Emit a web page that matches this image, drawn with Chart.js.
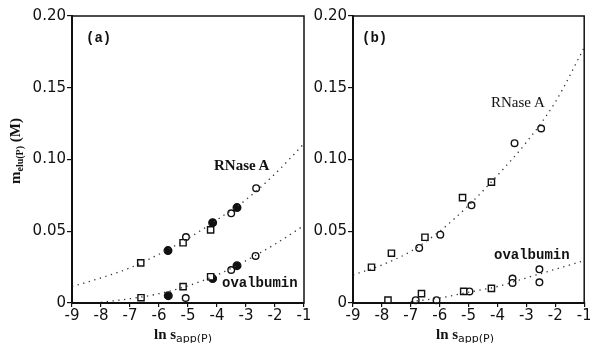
<!DOCTYPE html>
<html lang="en">
<head>
<meta charset="UTF-8" />
<title>Elution salt concentration vs ln s_app</title>
<script src="https://cdn.jsdelivr.net/npm/chart.js"></script>
<style>
  body { margin: 0; background: #fff; }
  #wrap { position: relative; width: 590px; height: 343px; overflow: hidden; }
  canvas { position: absolute; top: 0; }
  .lbl { position: absolute; color: #111; white-space: nowrap; line-height: 1; }
  .serif { font-family: "Liberation Serif", "DejaVu Serif", serif; font-weight: bold; }
  .mono { font-family: "Liberation Mono", "DejaVu Sans Mono", monospace; font-weight: bold; font-size: 14px; }
  .xt { font-size: 15px; }
  .xt sub { font-family: "DejaVu Sans", sans-serif; font-weight: normal; font-size: 11px; vertical-align: -3px; }
  .yt { transform: rotate(-90deg); transform-origin: left top; font-size: 15px; }
  .yt sub { font-size: 10px; vertical-align: -3px; }
</style>
</head>
<body>
<div id="wrap">
  <canvas id="panelA" width="310" height="343" style="left:0"></canvas>
  <canvas id="panelB" width="280" height="343" style="left:310px"></canvas>

  <div class="lbl mono" style="left:86px; top:31px;">(a)</div>
  <div class="lbl mono" style="left:362px; top:31px;">(b)</div>
  <div class="lbl serif" style="left:214px; top:158px; font-size:15px;">RNase A</div>
  <div class="lbl serif" style="left:491px; top:95px; font-size:15px; font-weight:normal;">RNase A</div>
  <div class="lbl mono" style="left:222px; top:276px;">ovalbumin</div>
  <div class="lbl mono" style="left:494px; top:248px;">ovalbumin</div>

  <div class="lbl serif xt" style="left:154px; top:327px;">ln s<sub>app(P)</sub></div>
  <div class="lbl serif xt" style="left:436px; top:327px;">ln s<sub>app(P)</sub></div>
  <div class="lbl serif yt" style="left:8px; top:184px;">m<sub>elu(P)</sub> (M)</div>
</div>

<script>
// x positions of the read-off fit curves
const curveX = [-9, -8, -7, -6, -5, -4, -3, -2, -1];
const ovalCurveAX = [-8, -7, -6, -5, -4, -3, -2, -1];
const ovalCurveBX = [-7, -6, -5, -4, -3, -2, -1];

// (a) fitted curves
const aRnaseCurve = [0.0115, 0.0175, 0.0245, 0.034, 0.045, 0.058, 0.072, 0.090, 0.111];
const aOvalCurve = [0.0005, 0.003, 0.0065, 0.012, 0.0195, 0.0295, 0.041, 0.054];

// (a) RNase A measurements
const aRnaseSqX = [-6.63, -5.17, -4.22];
const aRnaseSqY = [0.028, 0.042, 0.051];
const aRnaseFillX = [-5.69, -4.15, -3.31];
const aRnaseFillY = [0.0365, 0.056, 0.0665];
const aRnaseOpenX = [-5.07, -3.51, -2.65];
const aRnaseOpenY = [0.046, 0.0625, 0.080];

// (a) ovalbumin measurements
const aOvalSqX = [-6.62, -5.17, -4.22];
const aOvalSqY = [0.0037, 0.0114, 0.0183];
const aOvalFillX = [-5.68, -4.15, -3.31];
const aOvalFillY = [0.0051, 0.017, 0.026];
const aOvalOpenX = [-5.08, -3.51, -2.67];
const aOvalOpenY = [0.0035, 0.023, 0.0328];

// (b) fitted curves
const bRnaseCurve = [0.0195, 0.0265, 0.036, 0.050, 0.068, 0.089, 0.112, 0.140, 0.178];
const bOvalCurve = [0.001, 0.0035, 0.0075, 0.0115, 0.0175, 0.0235, 0.0295];

// (b) RNase A measurements
const bRnaseSqX = [-8.36, -7.67, -6.51, -5.21, -4.21];
const bRnaseSqY = [0.0249, 0.0347, 0.0458, 0.0734, 0.0842];
const bRnaseOpenX = [-6.71, -5.98, -4.90, -3.41, -2.49];
const bRnaseOpenY = [0.0384, 0.0476, 0.0681, 0.1114, 0.1216];

// (b) ovalbumin measurements
const bOvalSqX = [-7.79, -6.63, -5.17, -4.21];
const bOvalSqY = [0.002, 0.0065, 0.0081, 0.0102];
const bOvalOpenX = [-6.83, -6.11, -4.97, -3.48, -3.48, -2.55, -2.55];
const bOvalOpenY = [0.002, 0.002, 0.0081, 0.017, 0.014, 0.0235, 0.0144];

// axis ticks
const xTicks = [-9, -8, -7, -6, -5, -4, -3, -2, -1];
const yTicks = [0, 0.05, 0.10, 0.15, 0.20];

const pts = (xs, ys) => xs.map((x, i) => ({ x: x, y: ys[i] }));

function curve(xs, ys) {
  return {
    data: pts(xs, ys),
    showLine: true,
    pointRadius: 0,
    borderColor: '#333',
    borderWidth: 1.3,
    borderDash: [1.3, 4.5],
    cubicInterpolationMode: 'monotone'
  };
}

function marks(xs, ys, kind) {
  const ds = {
    data: pts(xs, ys),
    showLine: false,
    borderColor: '#111',
    borderWidth: 1.4,
    backgroundColor: '#fff',
    pointStyle: 'circle',
    pointRadius: 3.3,
    clip: false
  };
  if (kind === 'square') { ds.pointStyle = 'rect'; ds.pointRadius = 4.4; }
  if (kind === 'filled') { ds.backgroundColor = '#111'; ds.pointRadius = 3.8; }
  return ds;
}

// box around the plotting area
const frame = {
  id: 'frame',
  afterDraw(chart) {
    const a = chart.chartArea, c = chart.ctx;
    c.save();
    c.strokeStyle = '#111';
    c.lineWidth = 1.5;
    c.strokeRect(a.left, a.top, a.right - a.left, a.bottom - a.top);
    c.restore();
  }
};

const tickFont = { family: '"DejaVu Sans", sans-serif', size: 15 };

function makeChart(id, yWidth, padRight, datasets) {
  new Chart(document.getElementById(id), {
    type: 'scatter',
    data: { datasets: datasets },
    options: {
      responsive: false,
      animation: false,
      layout: { padding: { top: 16, right: padRight, left: 0, bottom: 0 } },
      plugins: { legend: { display: false }, tooltip: { enabled: false } },
      scales: {
        x: {
          type: 'linear', min: -9, max: -1,
          afterBuildTicks: s => { s.ticks = xTicks.map(v => ({ value: v })); },
          afterFit: s => { s.height = 40; s.paddingLeft = 0; s.paddingRight = 0; },
          ticks: { color: '#111', font: tickFont, padding: 0, maxRotation: 0, autoSkip: false,
                   callback: v => String(v) },
          grid: { drawOnChartArea: false, color: '#111', tickLength: 4, lineWidth: 1.2 },
          border: { color: '#111', width: 2 }
        },
        y: {
          type: 'linear', min: 0, max: 0.2,
          afterBuildTicks: s => { s.ticks = yTicks.map(v => ({ value: v })); },
          afterFit: s => { s.width = yWidth; s.paddingTop = 0; s.paddingBottom = 0; },
          ticks: { color: '#111', font: tickFont, padding: 1,
                   callback: v => v === 0 ? '0' : v.toFixed(2) },
          grid: { drawOnChartArea: false, color: '#111', tickLength: 5, lineWidth: 1.2 },
          border: { color: '#111', width: 2 }
        }
      }
    },
    plugins: [frame]
  });
}

makeChart('panelA', 72, 6, [
  curve(curveX, aRnaseCurve),
  curve(ovalCurveAX, aOvalCurve),
  marks(aRnaseSqX, aRnaseSqY, 'square'),
  marks(aRnaseFillX, aRnaseFillY, 'filled'),
  marks(aRnaseOpenX, aRnaseOpenY, 'open'),
  marks(aOvalSqX, aOvalSqY, 'square'),
  marks(aOvalFillX, aOvalFillY, 'filled'),
  marks(aOvalOpenX, aOvalOpenY, 'open')
]);

makeChart('panelB', 43, 5, [
  curve(curveX, bRnaseCurve),
  curve(ovalCurveBX, bOvalCurve),
  marks(bRnaseSqX, bRnaseSqY, 'square'),
  marks(bRnaseOpenX, bRnaseOpenY, 'open'),
  marks(bOvalSqX, bOvalSqY, 'square'),
  marks(bOvalOpenX, bOvalOpenY, 'open')
]);
</script>
</body>
</html>
